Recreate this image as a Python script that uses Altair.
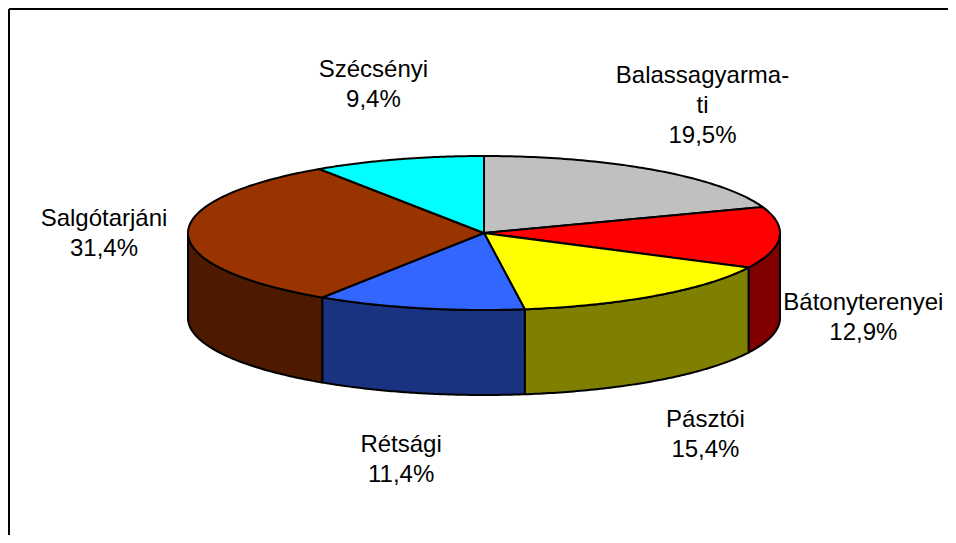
import math
import altair as alt
import pandas as pd

# ---- data ----
categories = ["Balassagyarmati", "Bátonyterenyei", "Pásztói", "Rétsági", "Salgótarjáni", "Szécsényi"]
label_names = ["Balassagyarma-\nti", "Bátonyterenyei", "Pásztói", "Rétsági", "Salgótarjáni", "Szécsényi"]
shares = [19.5, 12.9, 15.4, 11.4, 31.4, 9.4]
top_colors = ["#C0C0C0", "#FF0000", "#FFFF00", "#3366FF", "#993300", "#00FFFF"]
side_colors = ["#606060", "#800000", "#808000", "#1A3380", "#4D1A00", "#008080"]

# ---- geometry of the 3D pie (chart pixel space) ----
W, H = 940, 527
CX, CY = 476.0, 225.0
RX, RY = 296.0, 77.0
DEPTH = 85.0
LAB_RX, LAB_RY, LAB_DEPTH = 380.0, 155.0, 76.0
LINE_H = 30
N = 80


def pt(theta_deg, dy=0.0):
    t = math.radians(theta_deg)
    return [CX + RX * math.cos(t), CY - RY * math.sin(t) + dy]


def arc(a, b, dy=0.0):
    return [pt(a + (b - a) * i / N, dy) for i in range(N + 1)]


total = sum(shares)
sides, tops, labels = [], [], []
start = 90.0
for cat, lab, v, tc, sc in zip(categories, label_names, shares, top_colors, side_colors):
    end = start - v / total * 360.0
    ring = [[CX, CY]] + arc(start, end) + [[CX, CY]]
    tops.append({"type": "Feature", "properties": {"name": cat, "fill": tc},
                 "geometry": {"type": "Polygon", "coordinates": [ring]}})
    a, b = min(start, 0.0), max(end, -180.0)
    if a > b:
        ring = arc(a, b) + arc(b, a, DEPTH)
        ring.append(ring[0])
        sides.append({"type": "Feature", "properties": {"name": cat, "fill": sc},
                      "geometry": {"type": "Polygon", "coordinates": [ring]}})
    mid = math.radians((start + end) / 2)
    s = math.sin(mid)
    text = lab + "\n" + f"{v:.1f}".replace(".", ",") + "%"
    n_lines = text.count("\n") + 1
    lx = CX + LAB_RX * math.cos(mid)
    ly = CY - LAB_RY * s + (LAB_DEPTH if s < -0.02 else 0.0)
    labels.append({"x": lx, "y": ly - (n_lines - 1) * LINE_H / 2, "label": text})
    start = end

P = dict(type="identity", scale=1, translate=[0, 0], reflectY=False)

# chart-area frame (top and left edges visible in the reference)
frame_top = alt.Chart().mark_rule(color="black", strokeWidth=2).encode(
    x=alt.value(1), x2=alt.value(W), y=alt.value(1)
)
frame_left = alt.Chart().mark_rule(color="black", strokeWidth=2).encode(
    x=alt.value(1), y=alt.value(1), y2=alt.value(H)
)

side_layer = alt.Chart(alt.Data(values=sides)).mark_geoshape(
    stroke="black", strokeWidth=2, strokeJoin="round"
).encode(
    fill=alt.Fill("properties.fill:N", scale=None)
).project(**P)

top_layer = alt.Chart(alt.Data(values=tops)).mark_geoshape(
    stroke="black", strokeWidth=2, strokeJoin="round"
).encode(
    fill=alt.Fill("properties.fill:N", scale=None)
).project(**P)

label_layer = alt.Chart(pd.DataFrame(labels)).mark_text(
    font="Liberation Sans", fontSize=24, lineHeight=LINE_H, lineBreak="\n",
    align="center", baseline="middle", color="black"
).encode(
    longitude="x:Q", latitude="y:Q", text="label:N"
).project(**P)

chart = alt.layer(frame_top, frame_left, side_layer, top_layer, label_layer).properties(
    width=W, height=H, padding=0, autosize="none"
).configure_view(stroke=None)

chart.save("out.html", embed_options={"renderer": "svg", "actions": False})
